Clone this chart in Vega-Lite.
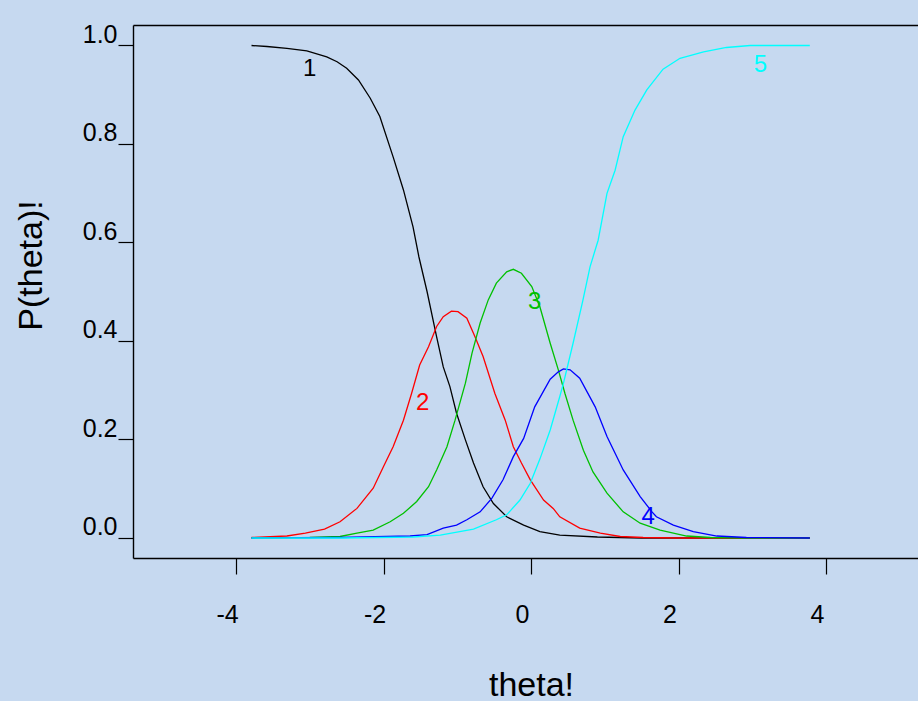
{
  "$schema": "https://vega.github.io/schema/vega-lite/v6.json",
  "width": 785,
  "height": 533,
  "autosize": {"type": "none"},
  "padding": {"left": 133, "top": 25, "right": 0, "bottom": 143},
  "background": "#C6D9F0",
  "config": {
    "view": {"stroke": null},
    "font": "Liberation Sans",
    "axis": {"grid": false, "domainColor": "#000000", "tickColor": "#000000", "labelColor": "#000000", "titleColor": "#000000", "domainWidth": 1.4, "tickWidth": 1.2}
  },
  "datasets": {
    "curves": [
      {"series": "1", "t": -3.79, "p": 0.999}, {"series": "1", "t": -3.58, "p": 0.997}, {"series": "1", "t": -3.31, "p": 0.993},
      {"series": "1", "t": -3.04, "p": 0.988}, {"series": "1", "t": -2.77, "p": 0.976}, {"series": "1", "t": -2.63, "p": 0.966},
      {"series": "1", "t": -2.5, "p": 0.953}, {"series": "1", "t": -2.34, "p": 0.929}, {"series": "1", "t": -2.18, "p": 0.892},
      {"series": "1", "t": -2.05, "p": 0.855}, {"series": "1", "t": -1.87, "p": 0.773}, {"series": "1", "t": -1.73, "p": 0.706},
      {"series": "1", "t": -1.6, "p": 0.631}, {"series": "1", "t": -1.52, "p": 0.57}, {"series": "1", "t": -1.41, "p": 0.5},
      {"series": "1", "t": -1.28, "p": 0.408}, {"series": "1", "t": -1.19, "p": 0.347}, {"series": "1", "t": -1.1, "p": 0.307},
      {"series": "1", "t": -1.01, "p": 0.253}, {"series": "1", "t": -0.89, "p": 0.199}, {"series": "1", "t": -0.78, "p": 0.152},
      {"series": "1", "t": -0.65, "p": 0.104}, {"series": "1", "t": -0.51, "p": 0.07}, {"series": "1", "t": -0.33, "p": 0.043},
      {"series": "1", "t": -0.1, "p": 0.026}, {"series": "1", "t": 0.12, "p": 0.013}, {"series": "1", "t": 0.39, "p": 0.006},
      {"series": "1", "t": 0.9, "p": 0.002}, {"series": "1", "t": 1.5, "p": 0.0}, {"series": "1", "t": 3.78, "p": 0.0},

      {"series": "2", "t": -3.79, "p": 0.001}, {"series": "2", "t": -3.31, "p": 0.004}, {"series": "2", "t": -3.06, "p": 0.01},
      {"series": "2", "t": -2.8, "p": 0.018}, {"series": "2", "t": -2.59, "p": 0.033}, {"series": "2", "t": -2.36, "p": 0.06},
      {"series": "2", "t": -2.14, "p": 0.101}, {"series": "2", "t": -2.0, "p": 0.145}, {"series": "2", "t": -1.87, "p": 0.185},
      {"series": "2", "t": -1.73, "p": 0.239}, {"series": "2", "t": -1.62, "p": 0.293}, {"series": "2", "t": -1.51, "p": 0.351},
      {"series": "2", "t": -1.39, "p": 0.388}, {"series": "2", "t": -1.28, "p": 0.429}, {"series": "2", "t": -1.19, "p": 0.449},
      {"series": "2", "t": -1.08, "p": 0.46}, {"series": "2", "t": -0.99, "p": 0.459}, {"series": "2", "t": -0.87, "p": 0.446},
      {"series": "2", "t": -0.76, "p": 0.408}, {"series": "2", "t": -0.65, "p": 0.368}, {"series": "2", "t": -0.49, "p": 0.293},
      {"series": "2", "t": -0.35, "p": 0.239}, {"series": "2", "t": -0.24, "p": 0.185}, {"series": "2", "t": -0.13, "p": 0.152},
      {"series": "2", "t": -0.01, "p": 0.118}, {"series": "2", "t": 0.17, "p": 0.077}, {"series": "2", "t": 0.3, "p": 0.06},
      {"series": "2", "t": 0.39, "p": 0.043}, {"series": "2", "t": 0.66, "p": 0.02}, {"series": "2", "t": 0.94, "p": 0.01},
      {"series": "2", "t": 1.21, "p": 0.003}, {"series": "2", "t": 1.52, "p": 0.001}, {"series": "2", "t": 2.0, "p": 0.0},
      {"series": "2", "t": 3.78, "p": 0.0},

      {"series": "3", "t": -3.79, "p": 0.0}, {"series": "3", "t": -3.0, "p": 0.001}, {"series": "3", "t": -2.59, "p": 0.003},
      {"series": "3", "t": -2.36, "p": 0.01}, {"series": "3", "t": -2.14, "p": 0.016}, {"series": "3", "t": -1.91, "p": 0.033},
      {"series": "3", "t": -1.73, "p": 0.05}, {"series": "3", "t": -1.55, "p": 0.074}, {"series": "3", "t": -1.39, "p": 0.104},
      {"series": "3", "t": -1.28, "p": 0.138}, {"series": "3", "t": -1.14, "p": 0.185}, {"series": "3", "t": -1.03, "p": 0.239},
      {"series": "3", "t": -0.89, "p": 0.314}, {"series": "3", "t": -0.8, "p": 0.375}, {"series": "3", "t": -0.69, "p": 0.436},
      {"series": "3", "t": -0.58, "p": 0.483}, {"series": "3", "t": -0.47, "p": 0.517}, {"series": "3", "t": -0.33, "p": 0.54},
      {"series": "3", "t": -0.24, "p": 0.545}, {"series": "3", "t": -0.13, "p": 0.537}, {"series": "3", "t": 0.01, "p": 0.51},
      {"series": "3", "t": 0.12, "p": 0.469}, {"series": "3", "t": 0.26, "p": 0.395}, {"series": "3", "t": 0.37, "p": 0.341},
      {"series": "3", "t": 0.46, "p": 0.293}, {"series": "3", "t": 0.57, "p": 0.239}, {"series": "3", "t": 0.71, "p": 0.178},
      {"series": "3", "t": 0.84, "p": 0.134}, {"series": "3", "t": 1.03, "p": 0.091}, {"series": "3", "t": 1.25, "p": 0.053},
      {"series": "3", "t": 1.48, "p": 0.03}, {"series": "3", "t": 1.75, "p": 0.016}, {"series": "3", "t": 2.11, "p": 0.004},
      {"series": "3", "t": 2.43, "p": 0.001}, {"series": "3", "t": 2.92, "p": 0.0}, {"series": "3", "t": 3.78, "p": 0.0},

      {"series": "4", "t": -3.79, "p": 0.0}, {"series": "4", "t": -2.59, "p": 0.001}, {"series": "4", "t": -1.96, "p": 0.003},
      {"series": "4", "t": -1.64, "p": 0.004}, {"series": "4", "t": -1.41, "p": 0.007}, {"series": "4", "t": -1.19, "p": 0.02},
      {"series": "4", "t": -1.01, "p": 0.026}, {"series": "4", "t": -0.87, "p": 0.037}, {"series": "4", "t": -0.69, "p": 0.053},
      {"series": "4", "t": -0.53, "p": 0.081}, {"series": "4", "t": -0.38, "p": 0.118}, {"series": "4", "t": -0.24, "p": 0.165},
      {"series": "4", "t": -0.1, "p": 0.202}, {"series": "4", "t": 0.05, "p": 0.266}, {"series": "4", "t": 0.26, "p": 0.322},
      {"series": "4", "t": 0.37, "p": 0.337}, {"series": "4", "t": 0.44, "p": 0.343}, {"series": "4", "t": 0.53, "p": 0.341},
      {"series": "4", "t": 0.66, "p": 0.324}, {"series": "4", "t": 0.87, "p": 0.266}, {"series": "4", "t": 1.03, "p": 0.206},
      {"series": "4", "t": 1.25, "p": 0.138}, {"series": "4", "t": 1.48, "p": 0.084}, {"series": "4", "t": 1.64, "p": 0.053},
      {"series": "4", "t": 1.7, "p": 0.043}, {"series": "4", "t": 1.93, "p": 0.026}, {"series": "4", "t": 2.2, "p": 0.013},
      {"series": "4", "t": 2.52, "p": 0.004}, {"series": "4", "t": 2.92, "p": 0.001}, {"series": "4", "t": 3.78, "p": 0.0},

      {"series": "5", "t": -3.79, "p": 0.0}, {"series": "5", "t": -2.59, "p": 0.0}, {"series": "5", "t": -1.6, "p": 0.002},
      {"series": "5", "t": -1.23, "p": 0.006}, {"series": "5", "t": -0.78, "p": 0.018}, {"series": "5", "t": -0.47, "p": 0.037},
      {"series": "5", "t": -0.33, "p": 0.047}, {"series": "5", "t": -0.15, "p": 0.077}, {"series": "5", "t": -0.01, "p": 0.111},
      {"series": "5", "t": 0.12, "p": 0.16}, {"series": "5", "t": 0.26, "p": 0.219}, {"series": "5", "t": 0.39, "p": 0.287},
      {"series": "5", "t": 0.44, "p": 0.314}, {"series": "5", "t": 0.57, "p": 0.395}, {"series": "5", "t": 0.7, "p": 0.48},
      {"series": "5", "t": 0.8, "p": 0.55}, {"series": "5", "t": 0.91, "p": 0.604}, {"series": "5", "t": 1.03, "p": 0.699},
      {"series": "5", "t": 1.14, "p": 0.746}, {"series": "5", "t": 1.25, "p": 0.814}, {"series": "5", "t": 1.41, "p": 0.868},
      {"series": "5", "t": 1.57, "p": 0.909}, {"series": "5", "t": 1.79, "p": 0.951}, {"series": "5", "t": 2.02, "p": 0.973},
      {"series": "5", "t": 2.34, "p": 0.986}, {"series": "5", "t": 2.65, "p": 0.995}, {"series": "5", "t": 2.97, "p": 0.999},
      {"series": "5", "t": 3.78, "p": 0.999}
    ],
    "labels": [
      {"series": "1", "t": -3.0, "p": 0.951},
      {"series": "2", "t": -1.47, "p": 0.273},
      {"series": "3", "t": 0.05, "p": 0.479},
      {"series": "4", "t": 1.59, "p": 0.043},
      {"series": "5", "t": 3.11, "p": 0.959}
    ]
  },
  "resolve": {"axis": {"x": "independent"}},
  "layer": [
    {
      "data": {"name": "curves"},
      "mark": {"type": "line", "strokeWidth": 1.3, "interpolate": "linear"},
      "encoding": {
        "x": {
          "field": "t", "type": "quantitative",
          "scale": {"domain": [-5.397, 5.247], "nice": false, "zero": false},
          "axis": {
            "orient": "bottom", "values": [-4, -2, 0, 2, 4], "labelExpr": "'' + datum.value",
            "tickSize": 16, "labelFontSize": 25, "labelPadding": 48, "labelBaseline": "alphabetic",
            "labelOffset": -9, "labelFlush": false,
            "title": "theta!", "titleFontSize": 34, "titleFontWeight": "normal",
            "titleX": 398, "titleY": 137, "titleAlign": "center", "titleBaseline": "alphabetic"
          }
        },
        "y": {
          "field": "p", "type": "quantitative",
          "scale": {"domain": [-0.0406, 1.0406], "nice": false, "zero": false},
          "axis": {
            "values": [0, 0.2, 0.4, 0.6, 0.8, 1.0], "format": ".1f",
            "tickSize": 15, "labelFontSize": 25, "labelPadding": 1, "labelBaseline": "alphabetic",
            "labelOffset": -3, "labelFlush": false,
            "title": "P(theta)!", "titleFontSize": 34, "titleFontWeight": "normal",
            "titleAngle": 270, "titleX": -92, "titleY": 240, "titleAlign": "center", "titleBaseline": "alphabetic"
          }
        },
        "color": {
          "field": "series", "type": "nominal",
          "scale": {"domain": ["1", "2", "3", "4", "5"], "range": ["#000000", "#FF0000", "#00C000", "#0000FF", "#00FFFF"]},
          "legend": null
        }
      }
    },
    {
      "data": {"name": "labels"},
      "mark": {"type": "text", "fontSize": 24, "align": "center", "baseline": "middle"},
      "encoding": {
        "x": {
          "field": "t", "type": "quantitative",
          "axis": {"orient": "top", "labels": false, "ticks": false, "title": null, "domain": true}
        },
        "y": {"field": "p", "type": "quantitative"},
        "text": {"field": "series"},
        "color": {"field": "series", "type": "nominal", "legend": null}
      }
    }
  ]
}
